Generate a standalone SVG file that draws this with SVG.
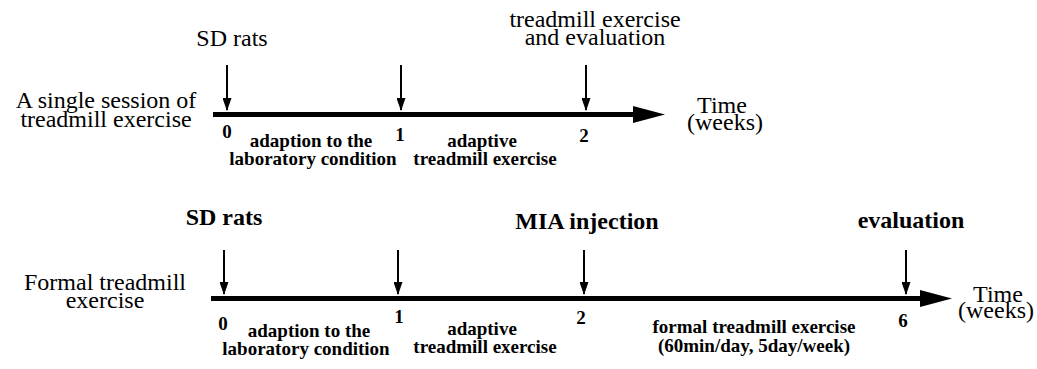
<svg xmlns="http://www.w3.org/2000/svg" width="1037" height="369" viewBox="0 0 1037 369">
<style>
text{font-family:"Liberation Serif","Times New Roman",serif;fill:#000;text-anchor:middle}
.big{font-size:24px}
.bigb{font-size:24px;font-weight:bold}
.sm{font-size:19px;font-weight:bold}
.tick{font-size:19px;font-weight:bold}
.axis{stroke:#000;stroke-width:5;fill:none}
.down{stroke:#000;stroke-width:2;fill:none;marker-end:url(#ah)}
</style>
<defs>
<marker id="ah" markerUnits="userSpaceOnUse" markerWidth="13" markerHeight="9" refX="12" refY="4.5" orient="auto" viewBox="0 0 13 9">
<path d="M0,0 L13,4.5 L0,9 Z" fill="#000"/>
</marker>
</defs>
<rect width="1037" height="369" fill="#fff"/>

<g id="connectors">
<line class="axis" x1="213" y1="114.5" x2="636" y2="114.5"/>
<polygon points="633,106 665,114.5 633,123" fill="#000"/>
<line class="axis" x1="211" y1="298.5" x2="923" y2="298.5"/>
<polygon points="920,290 952,298.5 920,307" fill="#000"/>
<line id="a1" class="down" x1="227" y1="65" x2="227" y2="110"/>
<line id="a2" class="down" x1="401" y1="65" x2="401" y2="110"/>
<line id="a3" class="down" x1="586" y1="65" x2="586" y2="110"/>
<line id="b1" class="down" x1="224" y1="250" x2="224" y2="294"/>
<line id="b2" class="down" x1="398" y1="250" x2="398" y2="294"/>
<line id="b3" class="down" x1="584" y1="250" x2="584" y2="294"/>
<line id="b4" class="down" x1="906" y1="250" x2="906" y2="294"/>
</g>

<g id="top-timeline">
<g id="t-title"><text class="big" x="106" y="108">A single session of</text><text class="big" x="106" y="127">treadmill exercise</text></g>
<g id="t-sd"><text class="big" x="232" y="46">SD rats</text></g>
<g id="t-eval"><text class="big" x="595" y="27">treadmill exercise</text><text class="big" x="595" y="45">and evaluation</text></g>
<g id="t-time"><text class="big" x="722" y="113">Time</text><text class="big" x="725" y="130">(weeks)</text></g>
<g id="t-ticks"><text class="tick" x="227" y="138">0</text><text class="tick" x="400" y="141">1</text><text class="tick" x="584" y="142">2</text></g>
<g id="t-p1"><text class="sm" x="311" y="147">adaption to the</text><text class="sm" x="313" y="165">laboratory condition</text></g>
<g id="t-p2"><text class="sm" x="482" y="147">adaptive</text><text class="sm" x="485" y="165">treadmill exercise</text></g>
</g>

<g id="bottom-timeline">
<g id="b-title"><text class="big" x="105" y="290">Formal treadmill</text><text class="big" x="105" y="308">exercise</text></g>
<g id="b-sd"><text class="bigb" x="224" y="225">SD rats</text></g>
<g id="b-mia"><text class="bigb" x="587" y="229">MIA injection</text></g>
<g id="b-eval"><text class="bigb" x="911" y="228">evaluation</text></g>
<g id="b-time"><text class="big" x="998" y="302">Time</text><text class="big" x="996" y="318">(weeks)</text></g>
<g id="b-ticks"><text class="tick" x="223" y="330">0</text><text class="tick" x="399" y="323">1</text><text class="tick" x="581" y="324">2</text><text class="tick" x="903" y="327">6</text></g>
<g id="b-p1"><text class="sm" x="309" y="337">adaption to the</text><text class="sm" x="306" y="355">laboratory condition</text></g>
<g id="b-p2"><text class="sm" x="482" y="335">adaptive</text><text class="sm" x="485" y="353">treadmill exercise</text></g>
<g id="b-p3"><text class="sm" x="754" y="333">formal treadmill exercise</text><text class="sm" x="754" y="352">(60min/day, 5day/week)</text></g>
</g>
</svg>
